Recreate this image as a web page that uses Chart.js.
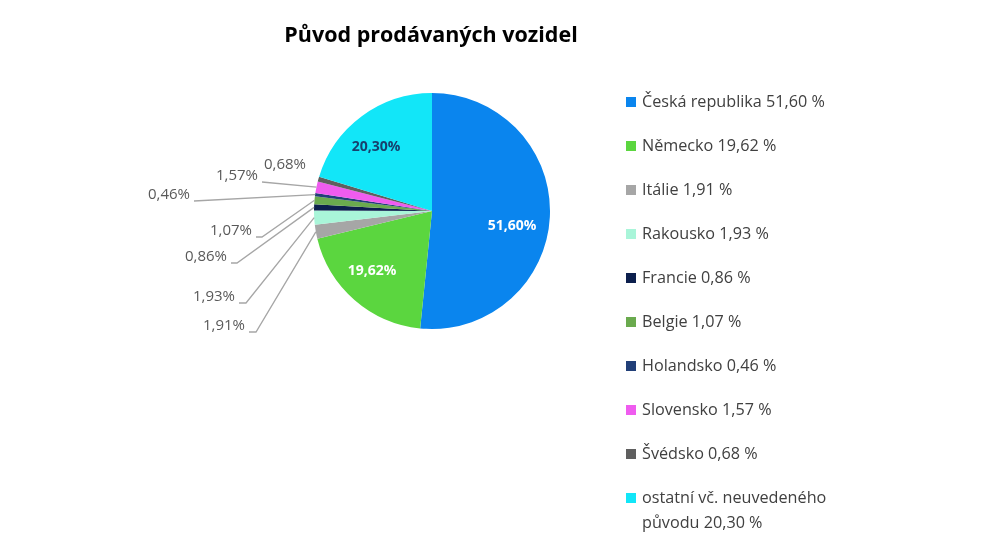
<!DOCTYPE html>
<html>
<head>
<meta charset="utf-8">
<script src="https://cdn.jsdelivr.net/npm/chart.js@4/dist/chart.umd.min.js"></script>
<style>
  body { margin: 0; background: #fff; }
  canvas { display: block; }
</style>
</head>
<body>
<canvas id="chart" width="991" height="558"></canvas>
<script>
const title = 'Původ prodávaných vozidel';
const countries = ['Česká republika', 'Německo', 'Itálie', 'Rakousko', 'Francie', 'Belgie', 'Holandsko', 'Slovensko', 'Švédsko', 'ostatní vč. neuvedeného původu'];
const shares = [51.60, 19.62, 1.91, 1.93, 0.86, 1.07, 0.46, 1.57, 0.68, 20.30];
const colors = ['#0a85ee', '#5bd63f', '#a6a6a6', '#a9f5d9', '#0c1f4d', '#6aaa4e', '#213f78', '#ef5cef', '#5f5f5f', '#12e6f8'];

// where each percentage label sits, relative to the pie centre
// inside labels: centre of text; outside labels: right edge of text + leader elbow length (-1 = no leader)
const labelLayout = [
  { x: 80, y: 15, inside: true, color: '#fff' },
  { x: -60, y: 60, inside: true, color: '#fff' },
  { x: -187, y: 115, elbow: 7 },
  { x: -197, y: 86, elbow: 7 },
  { x: -205, y: 46, elbow: 6 },
  { x: -180, y: 20, elbow: 6 },
  { x: -242, y: -16, elbow: 0 },
  { x: -174, y: -35, elbow: 0 },
  { x: -126, y: -46, elbow: -1 },
  { x: -56, y: -64, inside: true, color: '#17406d' }
];

const fmt = v => v.toFixed(2).replace('.', ',');

const extras = {
  id: 'extras',
  afterDraw(chart) {
    const ctx = chart.ctx;
    const arcs = chart.getDatasetMeta(0).data;
    const cx = arcs[0].x, cy = arcs[0].y;
    ctx.save();

    // title
    ctx.fillStyle = '#000';
    ctx.font = 'bold 21.5px "Open Sans"';
    ctx.textAlign = 'center';
    ctx.textBaseline = 'alphabetic';
    ctx.fillText(title, cx - 1, 42);

    // percentage labels
    arcs.forEach((arc, i) => {
      const L = labelLayout[i];
      const txt = fmt(shares[i]) + '%';
      const lx = cx + L.x, ly = cy + L.y;
      if (L.inside) {
        ctx.font = 'bold 14px "Open Sans"';
        ctx.fillStyle = L.color;
        ctx.textAlign = 'center';
        ctx.textBaseline = 'middle';
        ctx.fillText(txt, lx, ly);
        return;
      }
      ctx.font = '15px "Open Sans"';
      ctx.fillStyle = '#595959';
      ctx.textAlign = 'right';
      ctx.textBaseline = 'middle';
      ctx.fillText(txt, lx, ly);
      if (L.elbow >= 0) {
        const mid = (arc.startAngle + arc.endAngle) / 2;
        const ex = arc.x + Math.cos(mid) * arc.outerRadius;
        const ey = arc.y + Math.sin(mid) * arc.outerRadius;
        ctx.strokeStyle = '#a6a6a6';
        ctx.lineWidth = 1.3;
        ctx.beginPath();
        ctx.moveTo(lx + 4, ly + 6);
        ctx.lineTo(lx + 4 + L.elbow, ly + 6);
        ctx.lineTo(ex, ey);
        ctx.stroke();
      }
    });

    // legend
    ctx.font = '16.2px "Open Sans"';
    ctx.textAlign = 'left';
    ctx.textBaseline = 'middle';
    let y = 102;
    countries.forEach((name, i) => {
      ctx.fillStyle = colors[i];
      ctx.fillRect(626, y - 5, 10, 10);
      ctx.fillStyle = '#404040';
      const words = (name + ' ' + fmt(shares[i]) + ' %').split(' ');
      let line = '', ly = y;
      words.forEach(w => {
        const test = line ? line + ' ' + w : w;
        if (line && ctx.measureText(test).width > 205) {
          ctx.fillText(line, 642, ly);
          line = w;
          ly += 25;
        } else {
          line = test;
        }
      });
      ctx.fillText(line, 642, ly);
      y += 44;
    });
    ctx.restore();
  }
};

new Chart(document.getElementById('chart'), {
  type: 'pie',
  data: {
    labels: countries,
    datasets: [{ data: shares, backgroundColor: colors, borderWidth: 0 }]
  },
  options: {
    responsive: false,
    animation: false,
    layout: { padding: { left: 314, right: 441, top: 93, bottom: 229 } },
    plugins: { legend: { display: false }, tooltip: { enabled: false } }
  },
  plugins: [extras]
});
</script>
</body>
</html>
